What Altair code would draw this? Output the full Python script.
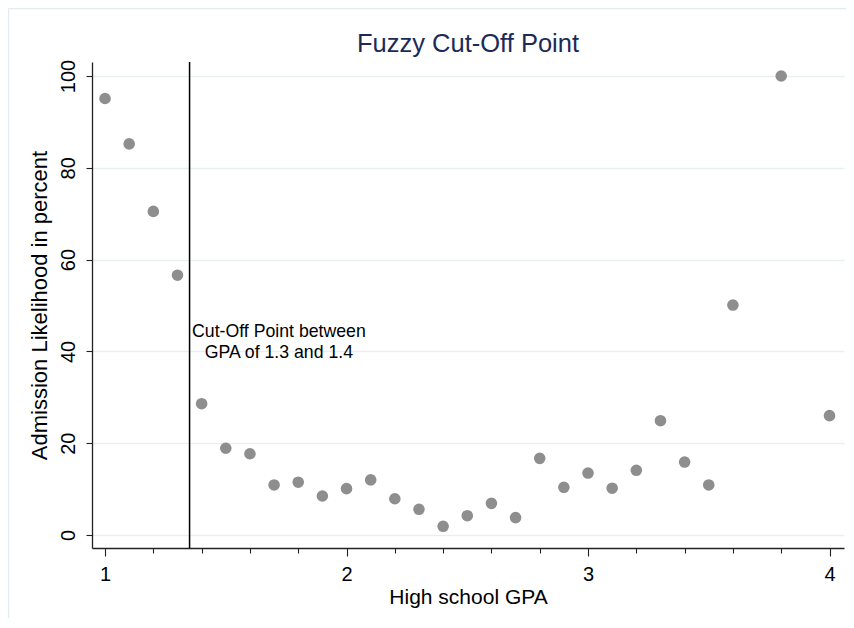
import altair as alt
import pandas as pd

gpa = [1.0, 1.1, 1.2, 1.3, 1.4, 1.5, 1.6, 1.7, 1.8, 1.9, 2.0, 2.1, 2.2, 2.3,
       2.4, 2.5, 2.6, 2.7, 2.8, 2.9, 3.0, 3.1, 3.2, 3.3, 3.4, 3.5, 3.6, 3.8, 4.0]
likelihood = [95.1, 85.2, 70.5, 56.6, 28.6, 18.9, 17.7, 10.9, 11.5, 8.5, 10.1,
              12.0, 7.9, 5.6, 1.9, 4.2, 6.9, 3.8, 16.7, 10.4, 13.5, 10.2, 14.1,
              24.9, 15.9, 10.9, 50.1, 100.0, 26.0]
x_ticks = [round(1.0 + 0.1 * i, 1) for i in range(31)]
y_ticks = [0, 20, 40, 60, 80, 100]
cutoff = [1.35]
note_x = [1.72]
note_y = [44.2]
note_text = ["Cut-Off Point between\nGPA of 1.3 and 1.4"]

df = pd.DataFrame({"gpa": gpa, "likelihood": likelihood})
cut_df = pd.DataFrame({"x": cutoff})
note_df = pd.DataFrame({"x": note_x, "y": note_y, "t": note_text})

FONT = "Liberation Sans"
xscale = alt.Scale(domain=[0.946, 4.06], nice=False, zero=False)
yscale = alt.Scale(domain=[-2.83, 103.05], nice=False, zero=False)

frame = alt.Chart(pd.DataFrame({"a": [0]})).mark_rect(
    fill=None, stroke="#e3ecee", strokeWidth=1.5
).encode(
    x=alt.value(-83.5), x2=alt.value(762), y=alt.value(-53.5), y2=alt.value(620)
)

points = alt.Chart(df).mark_circle(size=135, color="#8e8e8e", opacity=1).encode(
    x=alt.X("gpa:Q", scale=xscale,
            axis=alt.Axis(
                values=x_ticks,
                labelExpr="abs(datum.value - round(datum.value)) < 0.001 ? format(datum.value, 'd') : ''",
                title="High school GPA", grid=False,
                tickSize={"condition": {"test": "abs(datum.value - round(datum.value)) < 0.001", "value": 8}, "value": 5},
                labelPadding=8, titlePadding=2,
                labelFontSize=20, titleFontSize=21,
                domainColor="#222", tickColor="#222", domainWidth=1.3, tickWidth=1.1,
                labelColor="#000", titleColor="#000", labelFont=FONT, titleFont=FONT,
                titleFontWeight="normal",
            )),
    y=alt.Y("likelihood:Q", scale=yscale,
            axis=alt.Axis(
                values=y_ticks, title="Admission Likelihood in percent",
                grid=True, gridColor="#e8eff1", gridWidth=1.3,
                labelAngle=-90, labelAlign="center", labelBaseline="bottom",
                tickSize=6, labelPadding=8, titlePadding=7,
                labelFontSize=20, titleFontSize=22,
                domainColor="#222", tickColor="#222", domainWidth=1.3, tickWidth=1.1,
                labelColor="#000", titleColor="#000", labelFont=FONT, titleFont=FONT,
                titleFontWeight="normal",
            )),
)

rule = alt.Chart(cut_df).mark_rule(color="#000", strokeWidth=1.5).encode(
    x=alt.X("x:Q", scale=xscale)
)

note = alt.Chart(note_df).mark_text(
    font=FONT, fontSize=17.7, color="#000", align="center", baseline="middle",
    lineBreak="\n", lineHeight=21
).encode(
    x=alt.X("x:Q", scale=xscale), y=alt.Y("y:Q", scale=yscale), text="t:N"
)

chart = alt.layer(frame, points, rule, note).properties(
    width=752, height=486,
    title=alt.TitleParams("Fuzzy Cut-Off Point", font=FONT, fontSize=25.5,
                          fontWeight="normal", color="#1c2a58", anchor="middle",
                          offset=8, dy=58),
    autosize=alt.AutoSizeParams(type="none"),
    padding={"left": 84, "top": 54, "right": 2, "bottom": 70},
    background="white",
).configure_view(stroke=None)

chart.save("out.html", embed_options={"renderer": "svg", "actions": False})
